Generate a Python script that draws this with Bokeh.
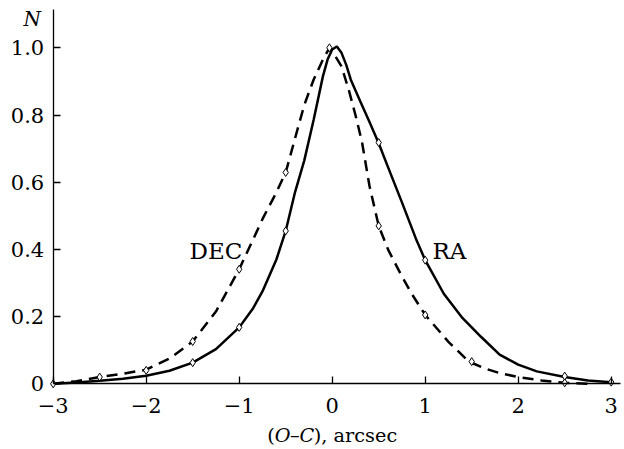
from bokeh.plotting import figure
from bokeh.models import Range1d, FixedTicker, CustomJSTickFormatter, Label
from bokeh.embed import file_html
from bokeh.resources import INLINE

# ---- data ----
ra_x = [-3.0, -2.75, -2.5, -2.25, -2.0, -1.75, -1.5, -1.25, -1.0, -0.85, -0.75, -0.6, -0.5, -0.4, -0.3,
        -0.2, -0.1, -0.05, 0.0, 0.05, 0.1, 0.15, 0.2, 0.3, 0.4, 0.5, 0.6, 0.75, 0.9, 1.0, 1.2, 1.4,
        1.6, 1.8, 2.0, 2.2, 2.5, 2.75, 3.0]
ra_y = [0.0, 0.004, 0.009, 0.015, 0.024, 0.039, 0.063, 0.103, 0.168, 0.225, 0.275, 0.37, 0.455, 0.57, 0.665,
        0.785, 0.915, 0.965, 0.995, 1.004, 0.985, 0.95, 0.905, 0.842, 0.78, 0.716, 0.645, 0.54, 0.432, 0.368,
        0.268, 0.196, 0.14, 0.087, 0.057, 0.037, 0.02, 0.01, 0.005]

dec_x = [-3.0, -2.75, -2.5, -2.25, -2.0, -1.75, -1.5, -1.25, -1.0, -0.85, -0.75, -0.6, -0.5, -0.4, -0.3,
         -0.2, -0.1, -0.03, 0.0, 0.1, 0.18, 0.25, 0.32, 0.4, 0.5, 0.6, 0.73, 0.85, 1.0, 1.25, 1.47,
         1.65, 1.8, 2.0, 2.25, 2.5, 2.75]
dec_y = [0.0, 0.008, 0.02, 0.03, 0.042, 0.075, 0.126, 0.215, 0.341, 0.43, 0.49, 0.57, 0.629, 0.73, 0.83,
         0.905, 0.965, 1.0, 0.99, 0.945, 0.873, 0.80, 0.72, 0.59, 0.47, 0.40, 0.33, 0.27, 0.205, 0.125, 0.066,
         0.045, 0.032, 0.02, 0.01, 0.003, 0.0]

ra_mx = [-3.0, -1.5, -1.0, -0.5, 0.5, 1.0, 2.5, 3.0]
ra_my = [0.0, 0.063, 0.168, 0.455, 0.718, 0.368, 0.023, 0.005]

dec_mx = [-2.5, -2.0, -1.5, -1.0, -0.5, -0.03, 0.5, 1.0, 1.5, 2.5]
dec_my = [0.02, 0.04, 0.126, 0.341, 0.629, 1.0, 0.47, 0.205, 0.066, 0.003]

x_ticks = [-3, -2, -1, 0, 1, 2, 3]
y_ticks = [0, 0.2, 0.4, 0.6, 0.8, 1.0]

FONT = "DejaVu Serif"

# whole canvas is the frame; axes are drawn at fixed positions inside it
p = figure(frame_width=624, frame_height=449,
           x_range=Range1d(-3.5667, 3.1430), y_range=Range1d(-0.1955, 1.1408),
           output_backend="svg", toolbar_location=None,
           min_border_left=0, min_border_right=0, min_border_top=0, min_border_bottom=0)
p.outline_line_color = None
p.grid.visible = False
p.background_fill_color = "white"

for ax in (p.xaxis[0], p.yaxis[0]):
    ax.major_tick_in = 7
    ax.major_tick_out = 0
    ax.minor_tick_in = 0
    ax.minor_tick_out = 0
    ax.axis_line_width = 1.3
    ax.major_tick_line_width = 1.3
    ax.axis_line_color = "black"
    ax.major_tick_line_color = "black"
    ax.major_label_text_font = FONT
    ax.major_label_text_font_size = "21px"
    ax.major_label_text_color = "black"

p.xaxis.fixed_location = 0
p.yaxis.fixed_location = -3
p.xaxis.bounds = (-3, 3.1)
p.yaxis.bounds = (0, 1.114)
p.xaxis.ticker = FixedTicker(ticks=x_ticks)
p.yaxis.ticker = FixedTicker(ticks=y_ticks)
p.xaxis.formatter = CustomJSTickFormatter(code='return tick < 0 ? "\u2212" + (-tick) : String(tick);')
p.yaxis.formatter = CustomJSTickFormatter(code='return tick === 0 ? "0" : tick.toFixed(1);')
p.xaxis.major_label_standoff = 14
p.yaxis.major_label_standoff = 9

p.line(dec_x, dec_y, line_color="black", line_width=2.5, line_dash="11 7")
p.line(ra_x, ra_y, line_color="black", line_width=2.5)
p.scatter(dec_mx, dec_my, marker="diamond", size=8, fill_color="white", line_color="black", line_width=1)
p.scatter(ra_mx, ra_my, marker="diamond", size=8, fill_color="white", line_color="black", line_width=1)

p.add_layout(Label(x=-1.25, y=0.394, text="DEC", text_font=FONT, text_font_size="23px",
                   text_align="center", text_baseline="alphabetic", text_color="black"))
p.add_layout(Label(x=1.26, y=0.394, text="RA", text_font=FONT, text_font_size="23px",
                   text_align="center", text_baseline="alphabetic", text_color="black"))
p.add_layout(Label(x=-3.226, y=1.086, text="N", text_font=FONT, text_font_size="20px",
                   text_font_style="italic", text_align="center", text_baseline="alphabetic",
                   text_color="black"))

# x-axis title "(O–C), arcsec" with italic O and C
pieces = [("(", "normal", -65.0), ("O", "italic", -57.5), ("\u2013", "normal", -42.3),
          ("C", "italic", -32.6), ("), arcsec", "normal", -18.4)]
for txt, style, off in pieces:
    p.add_layout(Label(x=0, y=-0.154, x_offset=off, text=txt, text_font=FONT, text_font_size="19.3px",
                       text_font_style=style, text_align="left", text_baseline="alphabetic",
                       text_color="black"))

open("out.html", "w").write(file_html(p, INLINE))
